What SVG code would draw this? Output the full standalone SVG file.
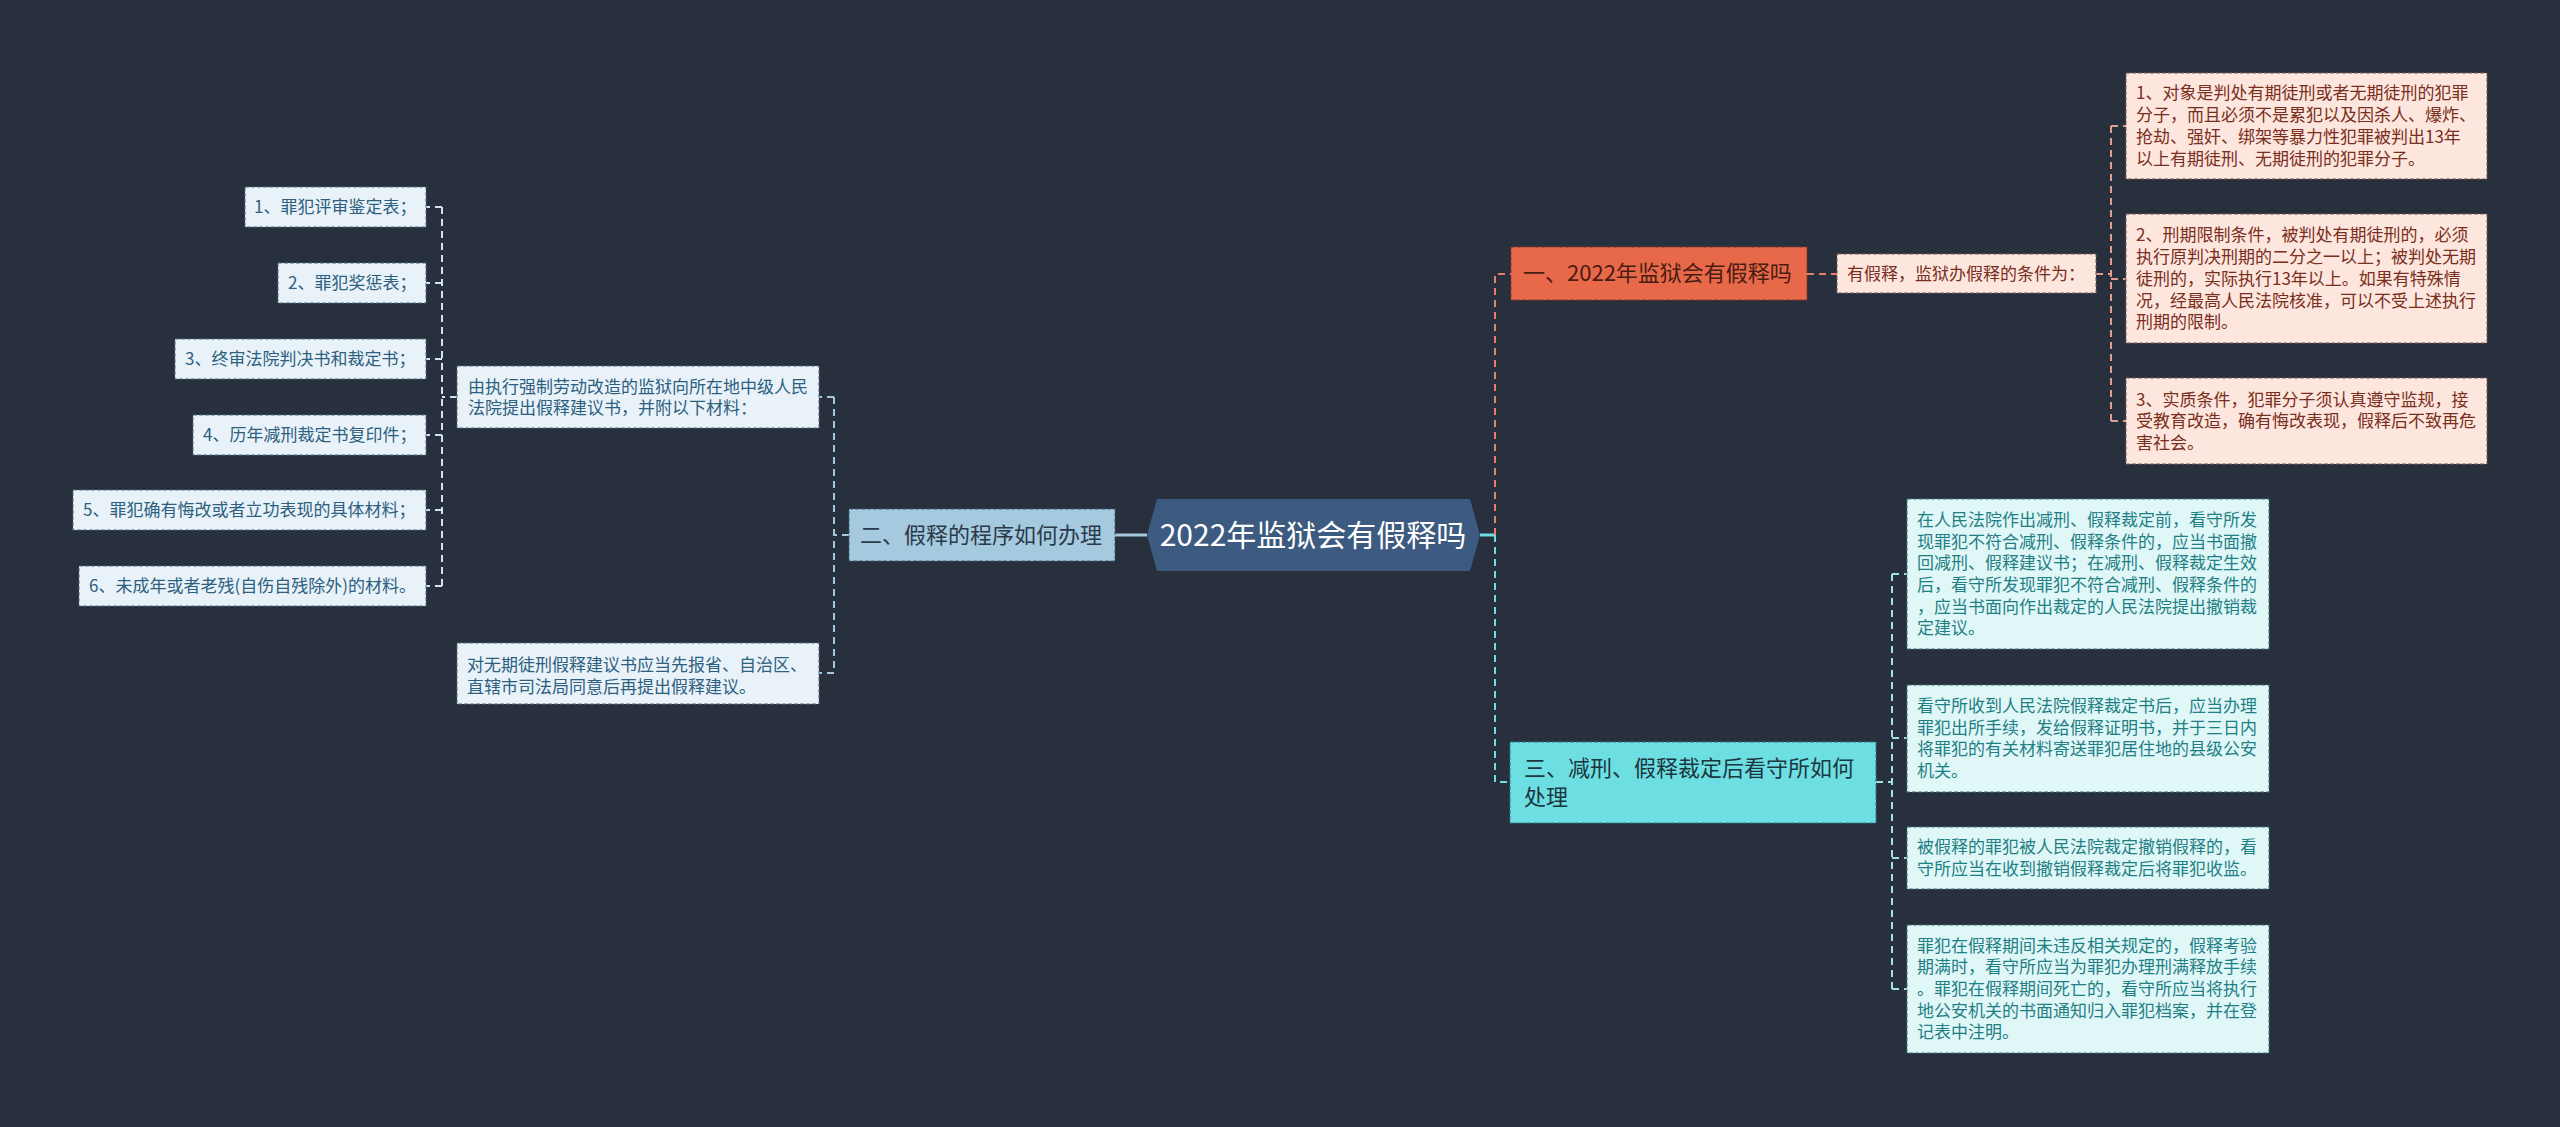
<svg xmlns="http://www.w3.org/2000/svg" width="2560" height="1127" viewBox="0 0 2560 1127">
<defs>
<style>
text{font-family:"Noto Sans CJK SC","Noto Sans",sans-serif;}
.main{font-size:30px;fill:#ffffff;}
.t22{font-size:22px;}
.t17{font-size:17px;}
.lf{fill:#e8f2f8;stroke:#4c6a80;stroke-width:1;stroke-dasharray:4 2;}
.lt{fill:#2d5f80;}
.b2{fill:#a5c9df;stroke:#3e5a70;stroke-width:1;stroke-dasharray:4 2;}
.b2t{fill:#2b3a4b;}
.b1{fill:#e8694a;stroke:#8a3424;stroke-width:1;stroke-dasharray:4 2;}
.b1t{fill:#4a1c12;}
.rf{fill:#fde6de;stroke:#7a5a52;stroke-width:1;stroke-dasharray:4 2;}
.rt{fill:#7a2e20;}
.b3{fill:#6ddfe3;stroke:#2a7a80;stroke-width:1;stroke-dasharray:4 2;}
.b3t{fill:#1c3640;}
.cf{fill:#e0f7f7;stroke:#3a7278;stroke-width:1;stroke-dasharray:4 2;}
.ct{fill:#1f7f85;}
.c-or{stroke:#e5806a;stroke-width:2;fill:none;stroke-dasharray:7 5;}
.c-pk{stroke:#dfa090;stroke-width:2;fill:none;stroke-dasharray:7 5;}
.c-cy{stroke:#6fdde3;stroke-width:2;fill:none;stroke-dasharray:7 5;}
.c-lc{stroke:#9ee2e6;stroke-width:2;fill:none;stroke-dasharray:7 5;}
.c-bl{stroke:#a5c9df;stroke-width:2;fill:none;stroke-dasharray:7 5;}
.c-wl{stroke:#d2e2ec;stroke-width:2;fill:none;stroke-dasharray:7 5;}
</style>
</defs>
<rect x="0" y="0" width="2560" height="1127" fill="#28303e"/>

<g id="connectors">
<line x1="1114" y1="535" x2="1147" y2="535" stroke="#a5c9df" stroke-width="3"/>
<line x1="1480" y1="535" x2="1495" y2="535" stroke="#6fdde3" stroke-width="3"/>
<path class="c-or" d="M1495,535 V274 H1511"/>
<path class="c-cy" d="M1495,535 V782 H1510"/>
<path class="c-or" d="M1807,274 H1837"/>
<path class="c-pk" d="M2096,274 H2111 M2111,126 V421 M2111,126 H2126 M2111,279 H2126 M2111,421 H2126"/>
<path class="c-lc" d="M1876,782 H1892 M1892,574 V989 M1892,574 H1907 M1892,738 H1907 M1892,858 H1907 M1892,989 H1907"/>
<path class="c-bl" d="M849,535 H834 M834,397 V673 M834,397 H819 M834,673 H819"/>
<path class="c-wl" d="M457,397 H442 M442,207 V586 M442,207 H426 M442,283 H426 M442,359 H426 M442,435 H426 M442,510 H426 M442,586 H426"/>
</g>

<g id="root">
<polygon points="1147,535 1157,499 1470,499 1480,535 1470,571 1157,571" fill="#3d5a80"/>
<text class="main" x="1313" y="546" text-anchor="middle">2022年监狱会有假释吗</text>
</g>

<g id="n1">
<rect class="b1" x="1511" y="247" width="296" height="53"/>
<text class="t22 b1t" x="1523" y="281">一、2022年监狱会有假释吗</text>
</g>
<g id="n1a">
<rect class="rf" x="1837" y="254" width="259" height="39"/>
<text class="t17 rt" x="1847" y="280">有假释，监狱办假释的条件为：</text>
</g>
<g id="n1a1">
<rect class="rf" x="2126" y="73" width="361" height="106"/>
<text class="t17 rt" x="2136"><tspan x="2136" y="99.4">1、对象是判处有期徒刑或者无期徒刑的犯罪</tspan><tspan x="2136" y="121.2">分子，而且必须不是累犯以及因杀人、爆炸、</tspan><tspan x="2136" y="142.9">抢劫、强奸、绑架等暴力性犯罪被判出13年</tspan><tspan x="2136" y="164.6">以上有期徒刑、无期徒刑的犯罪分子。</tspan></text>
</g>
<g id="n1a2">
<rect class="rf" x="2126" y="214" width="361" height="129"/>
<text class="t17 rt" x="2136"><tspan x="2136" y="241.4">2、刑期限制条件，被判处有期徒刑的，必须</tspan><tspan x="2136" y="263.1">执行原判决刑期的二分之一以上；被判处无期</tspan><tspan x="2136" y="284.8">徒刑的，实际执行13年以上。如果有特殊情</tspan><tspan x="2136" y="306.5">况，经最高人民法院核准，可以不受上述执行</tspan><tspan x="2136" y="328.2">刑期的限制。</tspan></text>
</g>
<g id="n1a3">
<rect class="rf" x="2126" y="378" width="361" height="86"/>
<text class="t17 rt" x="2136"><tspan x="2136" y="405.6">3、实质条件，犯罪分子须认真遵守监规，接</tspan><tspan x="2136" y="427.3">受教育改造，确有悔改表现，假释后不致再危</tspan><tspan x="2136" y="449">害社会。</tspan></text>
</g>

<g id="n3">
<rect class="b3" x="1510" y="742" width="366" height="81"/>
<text class="t22 b3t" x="1524"><tspan x="1524" y="776">三、减刑、假释裁定后看守所如何</tspan><tspan x="1524" y="804.5">处理</tspan></text>
</g>
<g id="n3a">
<rect class="cf" x="1907" y="499" width="362" height="150"/>
<text class="t17 ct" x="1917"><tspan x="1917" y="525.8">在人民法院作出减刑、假释裁定前，看守所发</tspan><tspan x="1917" y="547.5">现罪犯不符合减刑、假释条件的，应当书面撤</tspan><tspan x="1917" y="569.2">回减刑、假释建议书；在减刑、假释裁定生效</tspan><tspan x="1917" y="590.9">后，看守所发现罪犯不符合减刑、假释条件的</tspan><tspan x="1917" y="612.6">，应当书面向作出裁定的人民法院提出撤销裁</tspan><tspan x="1917" y="634.3">定建议。</tspan></text>
</g>
<g id="n3b">
<rect class="cf" x="1907" y="685" width="362" height="107"/>
<text class="t17 ct" x="1917"><tspan x="1917" y="711.8">看守所收到人民法院假释裁定书后，应当办理</tspan><tspan x="1917" y="733.5">罪犯出所手续，发给假释证明书，并于三日内</tspan><tspan x="1917" y="755.2">将罪犯的有关材料寄送罪犯居住地的县级公安</tspan><tspan x="1917" y="776.9">机关。</tspan></text>
</g>
<g id="n3c">
<rect class="cf" x="1907" y="827" width="362" height="62"/>
<text class="t17 ct" x="1917"><tspan x="1917" y="853.2">被假释的罪犯被人民法院裁定撤销假释的，看</tspan><tspan x="1917" y="874.9">守所应当在收到撤销假释裁定后将罪犯收监。</tspan></text>
</g>
<g id="n3d">
<rect class="cf" x="1907" y="925" width="362" height="128"/>
<text class="t17 ct" x="1917"><tspan x="1917" y="951.6">罪犯在假释期间未违反相关规定的，假释考验</tspan><tspan x="1917" y="973.3">期满时，看守所应当为罪犯办理刑满释放手续</tspan><tspan x="1917" y="995">。罪犯在假释期间死亡的，看守所应当将执行</tspan><tspan x="1917" y="1016.7">地公安机关的书面通知归入罪犯档案，并在登</tspan><tspan x="1917" y="1038.4">记表中注明。</tspan></text>
</g>

<g id="n2">
<rect class="b2" x="849" y="509" width="266" height="52"/>
<text class="t22 b2t" x="860" y="543">二、假释的程序如何办理</text>
</g>
<g id="n2a">
<rect class="lf" x="457" y="366" width="362" height="62"/>
<text class="t17 lt" x="468"><tspan x="468" y="392.7">由执行强制劳动改造的监狱向所在地中级人民</tspan><tspan x="468" y="414.4">法院提出假释建议书，并附以下材料：</tspan></text>
</g>
<g id="n2b">
<rect class="lf" x="457" y="643" width="362" height="61"/>
<text class="t17 lt" x="467"><tspan x="467" y="671">对无期徒刑假释建议书应当先报省、自治区、</tspan><tspan x="467" y="692.7">直辖市司法局同意后再提出假释建议。</tspan></text>
</g>
<g id="n2a1">
<rect class="lf" x="245" y="187" width="181" height="40"/>
<text class="t17 lt" x="254" y="213">1、罪犯评审鉴定表；</text>
</g>
<g id="n2a2">
<rect class="lf" x="278" y="263" width="148" height="40"/>
<text class="t17 lt" x="288" y="289">2、罪犯奖惩表；</text>
</g>
<g id="n2a3">
<rect class="lf" x="175" y="339" width="251" height="40"/>
<text class="t17 lt" x="185" y="365">3、终审法院判决书和裁定书；</text>
</g>
<g id="n2a4">
<rect class="lf" x="193" y="415" width="233" height="40"/>
<text class="t17 lt" x="203" y="441">4、历年减刑裁定书复印件；</text>
</g>
<g id="n2a5">
<rect class="lf" x="73" y="490" width="353" height="40"/>
<text class="t17 lt" x="83" y="516">5、罪犯确有悔改或者立功表现的具体材料；</text>
</g>
<g id="n2a6">
<rect class="lf" x="79" y="566" width="347" height="40"/>
<text class="t17 lt" x="89" y="592">6、未成年或者老残(自伤自残除外)的材料。</text>
</g>
</svg>
